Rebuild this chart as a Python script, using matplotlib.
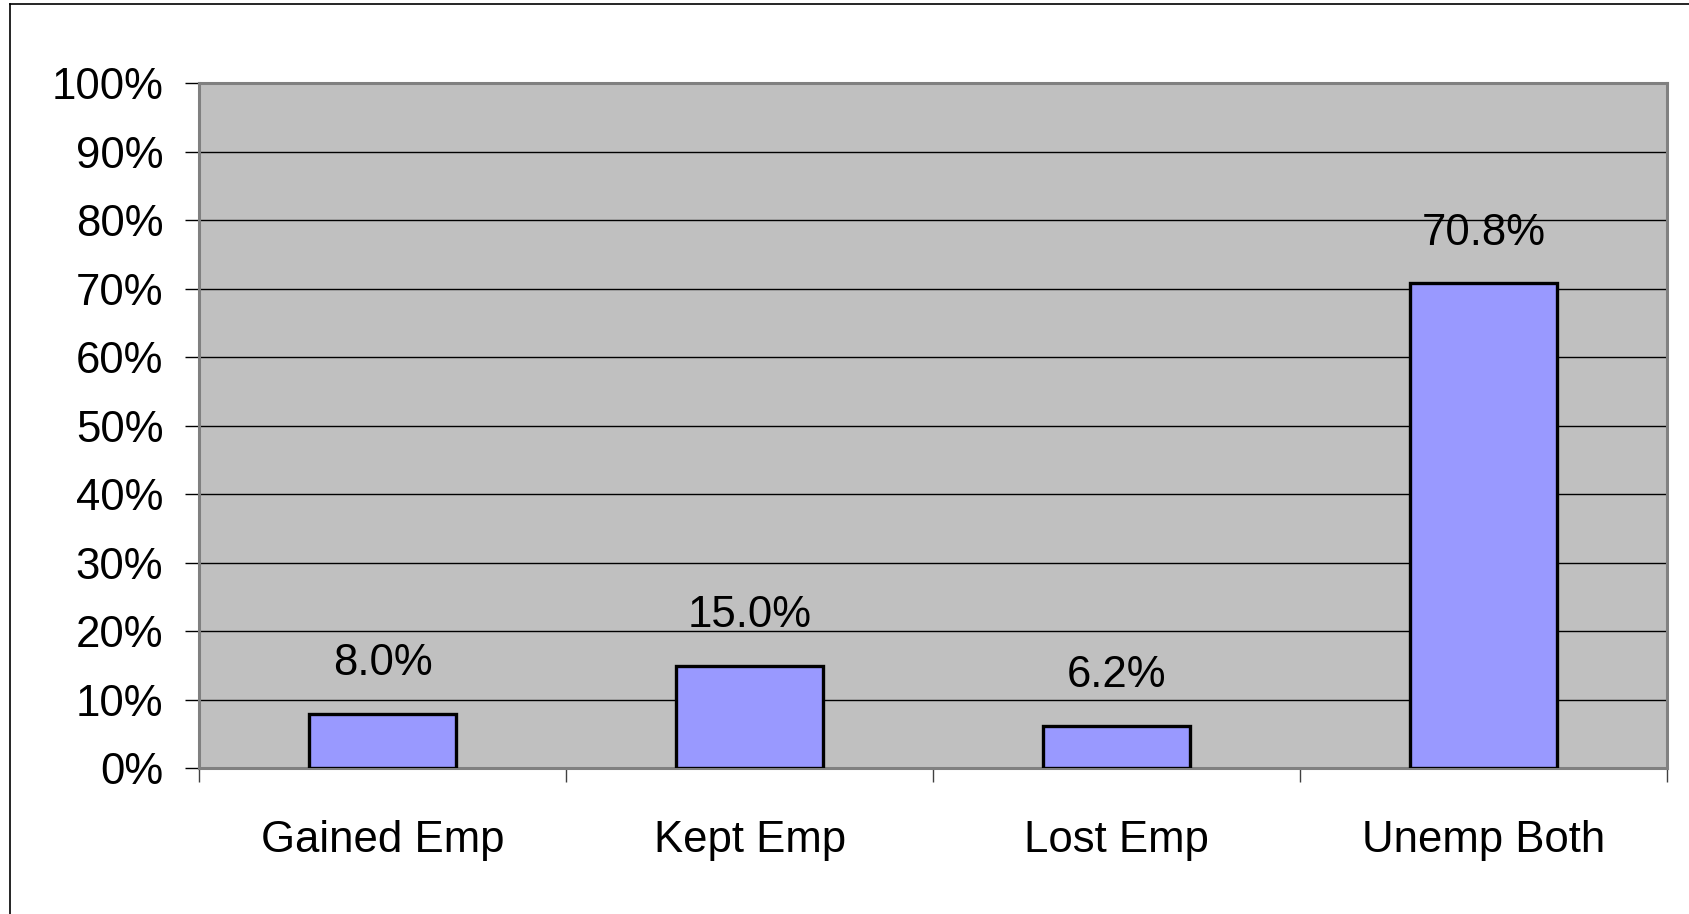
import matplotlib.pyplot as plt
from matplotlib.lines import Line2D
import numpy as np

plt.rcParams["font.family"] = ["Liberation Sans", "DejaVu Sans"]

categories = ["Gained Emp", "Kept Emp", "Lost Emp", "Unemp Both"]
shares = [8.0, 15.0, 6.2, 70.8]
y_ticks = list(range(0, 101, 10))
y_tick_labels = [f"{v}%" for v in y_ticks]

PLOT_BG = "#c0c0c0"
BAR_COLOUR = "#9999ff"
FRAME_GREY = "#808080"
FONT_SIZE = 31.5

fig = plt.figure(figsize=(16.9, 9.14), dpi=100)
ax = fig.add_axes([0.118, 0.1592, 0.8684, 0.75])

x = np.arange(len(categories))

ax.set_facecolor(PLOT_BG)
ax.set_xlim(-0.5, len(categories) - 0.5)
ax.set_ylim(0, 100)

# gridlines behind the bars
ax.set_axisbelow(True)
ax.yaxis.grid(True, color="black", linewidth=1.0)

bars = ax.bar(
    x,
    shares,
    width=0.4,
    color=BAR_COLOUR,
    edgecolor="black",
    linewidth=2.4,
    zorder=3,
)

for rect, val in zip(bars, shares):
    ax.annotate(
        f"{val:.1f}%",
        xy=(rect.get_x() + rect.get_width() / 2, rect.get_height()),
        xytext=(0, 36),
        textcoords="offset points",
        ha="center",
        va="center",
        fontsize=FONT_SIZE,
        color="black",
    )

# y axis
ax.set_yticks(y_ticks)
ax.set_yticklabels(y_tick_labels, fontsize=FONT_SIZE)
ax.tick_params(axis="y", direction="out", length=10, width=1.0, color="black", pad=16)

# x axis: labels at centres, tick marks at category boundaries
ax.set_xticks(x)
ax.set_xticklabels(categories, fontsize=FONT_SIZE)
ax.tick_params(axis="x", which="major", length=0, pad=37)
ax.set_xticks(np.arange(-0.5, len(categories)), minor=True)
ax.tick_params(axis="x", which="minor", direction="out", length=10, width=1.0, color="#404040")

for side in ["left", "right", "top", "bottom"]:
    ax.spines[side].set_color(FRAME_GREY)
    ax.spines[side].set_linewidth(2.2)

# outer chart frame (cut at right and bottom in the original)
fig.add_artist(Line2D([0.0059, 0.0059], [0.0, 0.9951], transform=fig.transFigure, color="black", linewidth=1.2))
fig.add_artist(Line2D([0.0059, 1.0], [0.9951, 0.9951], transform=fig.transFigure, color="black", linewidth=1.2))

fig.savefig("out.png", dpi=100)
